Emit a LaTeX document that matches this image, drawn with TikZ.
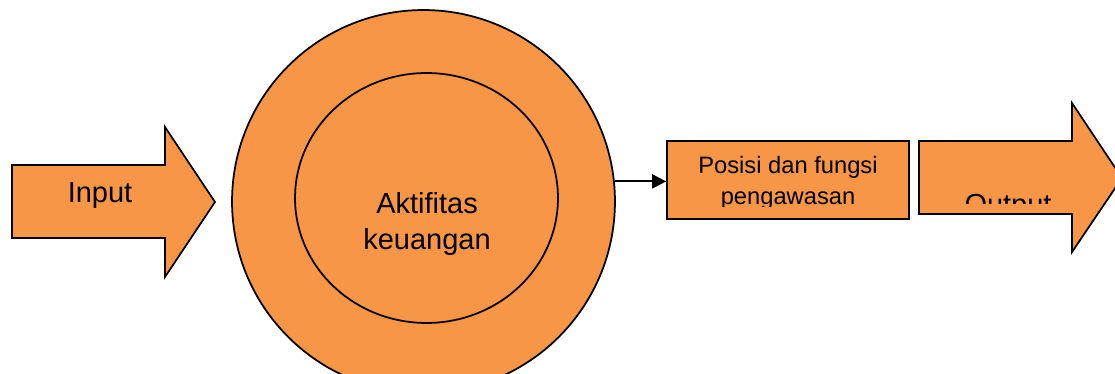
\documentclass[tikz,border=0pt]{standalone}
\usepackage{fontspec}
\setmainfont{Liberation Sans}
\usetikzlibrary{arrows.meta,shapes.geometric}
\definecolor{FlowOrange}{HTML}{F79646}

\begin{document}
\begin{tikzpicture}[
      x=0.02cm,y=-0.02cm,
      >={Triangle[length=8pt,width=8pt]},
      bigfont/.style={font=\fontsize{16.5}{21}\selectfont},
      blockarrow/.style={draw=black,fill=FlowOrange,line width=1pt,line join=miter},
      ringnode/.style={circle,draw=black,fill=FlowOrange,line width=1pt,inner sep=0pt,minimum size=7.66cm},
      coreovals/.style={ellipse,draw=black,fill=FlowOrange,line width=1pt,inner sep=0pt,minimum width=5.26cm,minimum height=5.0cm},
      posbox/.style={rectangle,draw=black,fill=FlowOrange,line width=1pt,minimum width=4.84cm,minimum height=1.56cm},
      arr/.style={->,line width=1.1pt,draw=black}
    ]
      \clip (0,0) rectangle (1115,374);
      \fill[white] (0,0) rectangle (1115,374);
      % input arrow
      \draw[blockarrow] (12,165) -- (165,165) -- (165,127) -- (215,202) -- (165,277) -- (165,238) -- (12,238) -- cycle;
      \node[bigfont,anchor=base] (input) at (100,203) {Input};
      % activity rings
      \node[ringnode] (outer) at (423.5,201.5) {};
      \node[coreovals] (inner) at (426.5,198) {};
      \node[bigfont,align=center] (act) at (427,224) {Aktifitas\\keuangan};
      % supervision box
      \node[posbox] (pos) at (788,180) {};
      \draw[arr] (outer.6) -- (outer.6 -| pos.west);
      \begin{scope}
        \clip (667,141) rectangle (909,207);
        \node[font=\fontsize{13.5}{18}\selectfont,align=center] (postext) at (788,183) {Posisi dan fungsi\\pengawasan};
      \end{scope}
      % output arrow
      \draw[blockarrow] (919,141) -- (1072,141) -- (1072,103) -- (1122,178) -- (1072,252) -- (1072,214) -- (919,214) -- cycle;
      \begin{scope}
        \clip (919,141) rectangle (1072,204);
        \node[bigfont,anchor=base] (output) at (1008,215) {Output};
      \end{scope}
    \end{tikzpicture}
\end{document}
